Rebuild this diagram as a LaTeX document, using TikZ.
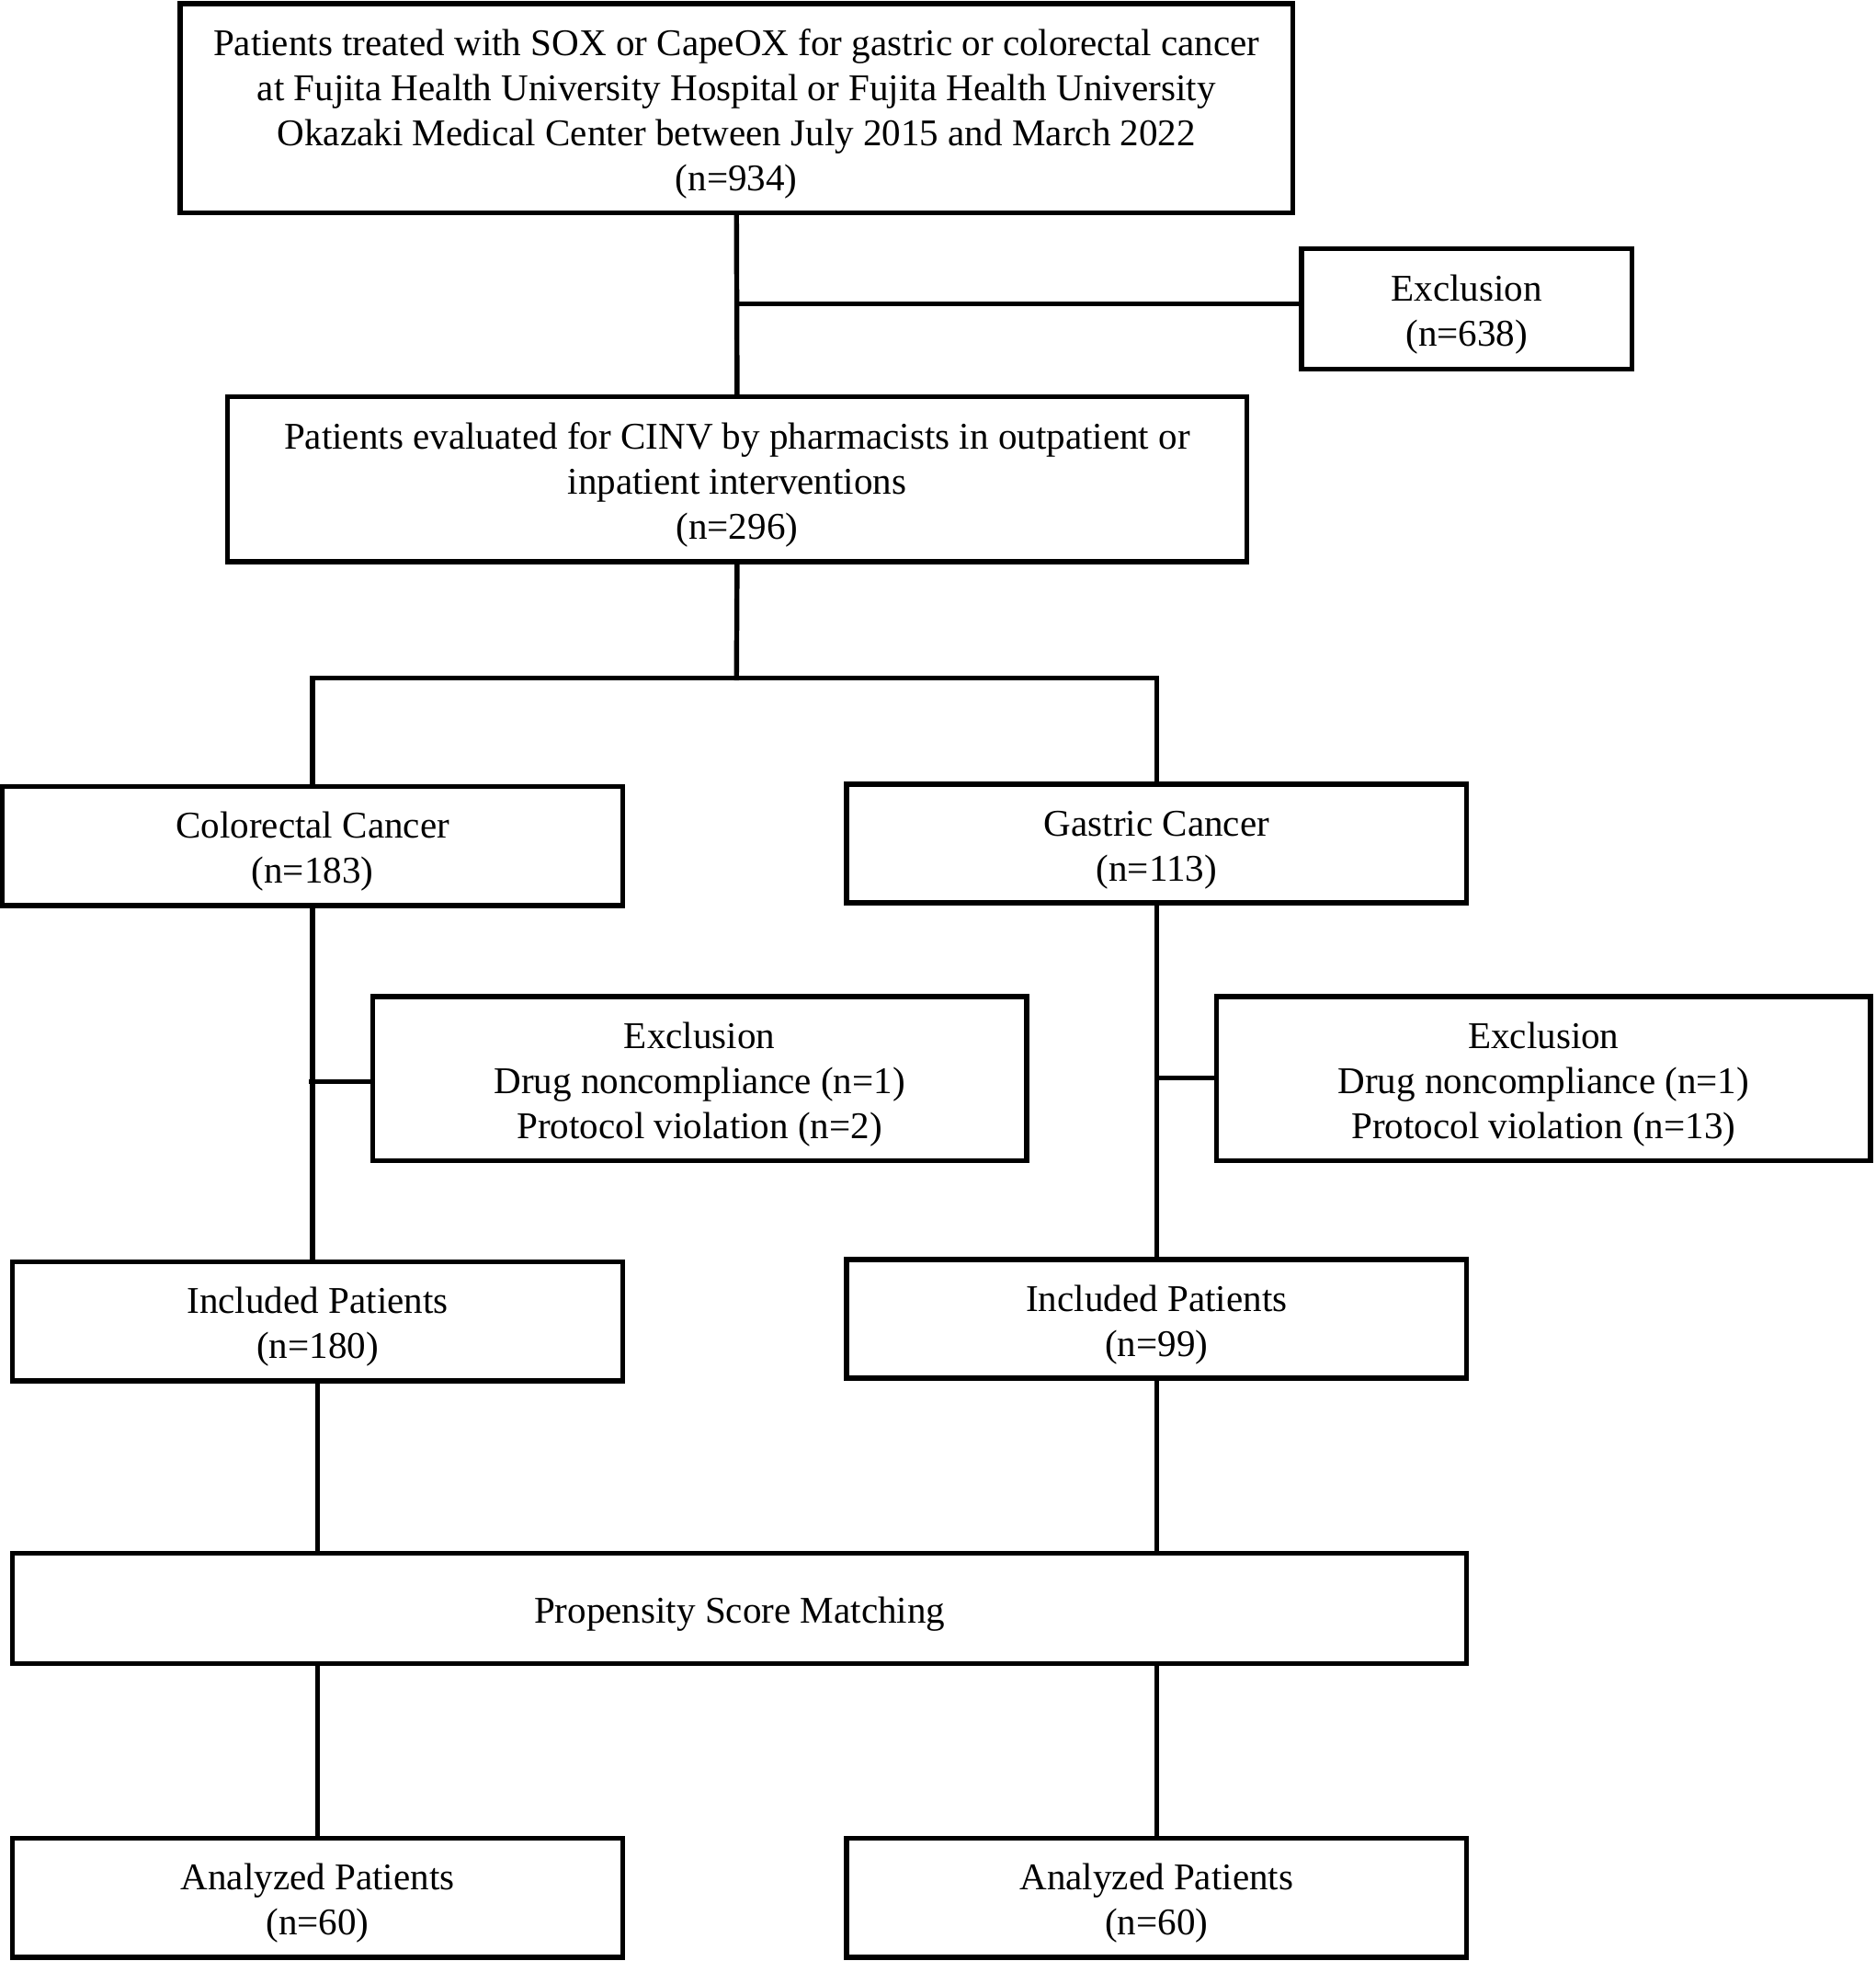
\documentclass[tikz,border=0pt]{standalone}
\usepackage{fontspec}
\setmainfont{Liberation Serif}
\tikzset{every picture/.style={line width=2pt}}
\newcommand{\boxstrut}{\rule{0pt}{15pt}}

\begin{document}
\begin{tikzpicture}[x=0.5pt,y=0.5pt,yscale=-1,xscale=1,
  flowbox/.style={draw,line join=miter,inner sep=0pt,align=center,font=\fontsize{15.1}{18}\selectfont},
  link/.style={draw,line cap=rect}]
%set diagram left start at 0, and has height of 1568
\useasboundingbox (0,0) rectangle (1500,1568);

%Shape: Rectangle [id:top]
\node [flowbox,minimum width=445pt,minimum height=83.5pt] (screened) at (589,86.5) {\boxstrut Patients treated with SOX or CapeOX for gastric or colorectal cancer\\at Fujita Health University Hospital or Fujita Health University\\Okazaki Medical Center between July 2015 and March 2022\\(n=934)};
%Shape: Rectangle [id:excl]
\node [flowbox,minimum width=132pt,minimum height=48pt] (exclusion) at (1173,247) {\boxstrut Exclusion\\(n=638)};
%Shape: Rectangle [id:eval]
\node [flowbox,minimum width=407.5pt,minimum height=66pt] (evaluated) at (589.5,383) {\boxstrut Patients evaluated for CINV by pharmacists in outpatient or\\inpatient interventions\\(n=296)};

%Shape: Rectangle [id:crc]
\node [flowbox,minimum width=248pt,minimum height=47.5pt] (colorectal) at (250,676.5) {\boxstrut Colorectal Cancer\\(n=183)};
%Shape: Rectangle [id:gc]
\node [flowbox,minimum width=248pt,minimum height=47.5pt] (gastric) at (925,674.5) {\boxstrut Gastric Cancer\\(n=113)};

%Shape: Rectangle [id:exclL]
\node [flowbox,minimum width=261.5pt,minimum height=65.5pt] (exclcrc) at (559.5,862.5) {\boxstrut Exclusion\\Drug noncompliance (n=1)\\Protocol violation (n=2)};
%Shape: Rectangle [id:exclR]
\node [flowbox,minimum width=261.5pt,minimum height=65.5pt] (exclgc) at (1234.5,862.5) {\boxstrut Exclusion\\Drug noncompliance (n=1)\\Protocol violation (n=13)};

%Shape: Rectangle [id:inclL]
\node [flowbox,minimum width=244pt,minimum height=47.5pt] (inclcrc) at (254,1056.5) {\boxstrut Included Patients\\(n=180)};
%Shape: Rectangle [id:inclR]
\node [flowbox,minimum width=248pt,minimum height=47.5pt] (inclgc) at (925,1054.5) {\boxstrut Included Patients\\(n=99)};

%Shape: Rectangle [id:psm]
\node [flowbox,minimum width=581.5pt,minimum height=44pt] (matching) at (591.5,1286) {\boxstrut Propensity Score Matching};

%Shape: Rectangle [id:anaL]
\node [flowbox,minimum width=244pt,minimum height=47.5pt] (anacrc) at (254,1517.5) {\boxstrut Analyzed Patients\\(n=60)};
%Shape: Rectangle [id:anaR]
\node [flowbox,minimum width=248pt,minimum height=47.5pt] (anagc) at (925,1517.5) {\boxstrut Analyzed Patients\\(n=60)};

%Straight Lines
\coordinate (split1) at (589,243);
\coordinate (split2) at (589,542);
\coordinate (splitL) at (249,865);
\coordinate (splitR) at (925,862);
\draw [link] (screened.south) -- (evaluated.north);
\draw [link] (split1) -- (exclusion.west |- split1);
\draw [link] (evaluated.south) -- (split2);
\draw [link] (colorectal.north) |- (split2) -| (gastric.north);
\draw [link] (colorectal.south) -- (colorectal.south |- inclcrc.north);
\draw [link] (splitL) -- (exclcrc.west |- splitL);
\draw [link] (gastric.south) -- (inclgc.north);
\draw [link] (splitR) -- (exclgc.west |- splitR);
\draw [link] (inclcrc.south) -- (inclcrc.south |- matching.north);
\draw [link] (inclgc.south) -- (inclgc.south |- matching.north);
\draw [link] (anacrc.north |- matching.south) -- (anacrc.north);
\draw [link] (anagc.north |- matching.south) -- (anagc.north);

\end{tikzpicture}
\end{document}
